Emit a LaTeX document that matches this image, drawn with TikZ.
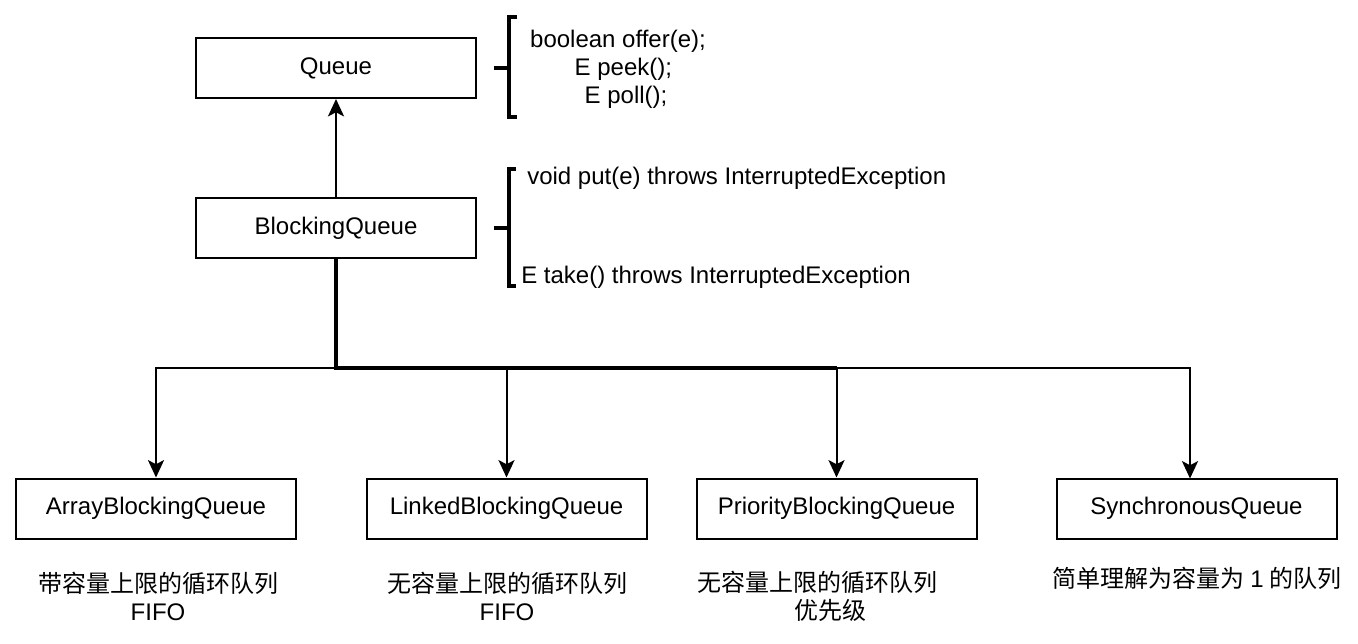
\documentclass[tikz,border=0pt]{standalone}
\usepackage{fontspec}
\setmainfont{Liberation Sans}
\newfontfamily\cjk{Noto Sans CJK SC}
\usetikzlibrary{arrows.meta}
\begin{document}
\begin{tikzpicture}[x=0.75pt,y=-0.75pt,
  box/.style={draw, line width=1.5pt, rectangle, minimum width=210pt, minimum height=45pt, inner sep=0pt, font=\fontsize{18}{21}\selectfont},
  txt/.style={inner sep=0pt, font=\fontsize{18}{21}\selectfont, align=center},
  arr/.style={line width=1.5pt, -{Stealth[length=13pt,width=12pt,inset=3pt]}},
  brk/.style={line width=2.4pt}]
\useasboundingbox (0,0) rectangle (1358,643);
% boxes
\node[box] (q) at (336,68) {Queue};
\node[box] (bq) at (336,228) {BlockingQueue};
\node[box] (c1) at (156,508.5) {ArrayBlockingQueue};
\node[box] (c2) at (506.5,508.5) {LinkedBlockingQueue};
\node[box] (c3) at (836.5,508.5) {PriorityBlockingQueue};
\node[box] (c4) at (1196.5,508.5) {SynchronousQueue};
% connectors
\draw[arr] (bq.north) -- (q.south);
\coordinate (j) at (336,368);
\coordinate (jr) at (836.5,368);
\coordinate (c4in) at (1190,478.5);
\draw[arr] (bq.south) -- (j) -| (c1.north);
\draw[arr] (bq.south) -- (j) -| (c2.north);
\draw[arr] (bq.south) -- (j) -| (c3.north);
\draw[arr] (bq.south) -- (j) -| (c4in);
\draw[line width=2.6pt] (bq.south) -- (j) -- (jr);
% bracket 1
\draw[brk] (517,17) -- (509,17) -- (509,117) -- (517,117);
\draw[brk] (494,68) -- (509,68);
\node[txt] (m1) at (618,69) {boolean offer(e);\\\hspace*{8pt}E peek();\\\hspace*{12pt}E poll();};
% bracket 2
\draw[brk] (516,169) -- (509,169) -- (509,286) -- (516,286);
\draw[brk] (494,228) -- (509,228);
\node[txt, anchor=west] (m2) at (527,178) {void put(e) throws InterruptedException};
\node[txt, anchor=west] (m3) at (521,277) {E take() throws InterruptedException};
% captions
\node[txt] (t1) at (158,596) {{\cjk 带容量上限的循环队列}\\FIFO};
\node[txt] (t2) at (507,596) {{\cjk 无容量上限的循环队列}\\FIFO};
\node[txt] (t3) at (817,596) {{\cjk 无容量上限的循环队列}\\\hspace*{20pt}{\cjk 优先级}};
\node[txt] (t4) at (1197,578) {\cjk 简单理解为容量为 {\rmfamily 1} 的队列};
\end{tikzpicture}
\end{document}
